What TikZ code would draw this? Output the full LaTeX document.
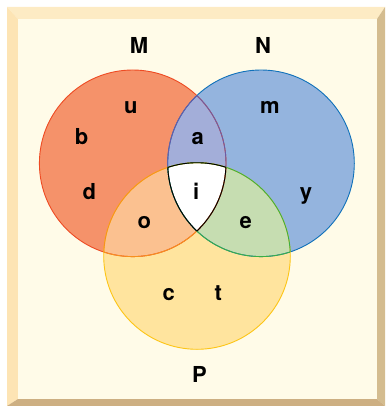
\documentclass[tikz,border=0pt]{standalone}
\usepackage{fontspec}
\setmainfont{TeX Gyre Heros}
\usepackage{tikz}
\definecolor{frameTop}{HTML}{FDEBC4}
\definecolor{frameLeft}{HTML}{FDE4B4}
\definecolor{frameRight}{HTML}{D4BC8F}
\definecolor{frameBot}{HTML}{CDAF82}
\definecolor{paper}{HTML}{FFFBE8}
\definecolor{fillM}{HTML}{F5926A}
\definecolor{fillN}{HTML}{94B4DE}
\definecolor{fillP}{HTML}{FFE49E}
\definecolor{fillMN}{HTML}{A3AED9}
\definecolor{fillMP}{HTML}{FBC190}
\definecolor{fillNP}{HTML}{C6DDB1}
\definecolor{lineM}{HTML}{EE4B23}
\definecolor{lineN}{HTML}{1071BA}
\definecolor{lineP}{HTML}{FDC516}
\definecolor{lineMN}{HTML}{6A5BA6}
\definecolor{lineMP}{HTML}{F7901E}
\definecolor{lineNP}{HTML}{3AAE45}
\newcommand{\rr}{93.3}

\begin{document}
\begin{tikzpicture}[x=1pt, y=-1pt, line width=0.9pt,
    lbl/.style={anchor=base, inner sep=0pt, font=\fontsize{22}{22}\selectfont\bfseries}]
  \useasboundingbox (0,0) rectangle (385,406);

  % -- bevelled frame round the paper --------------------------------------
  \fill[frameTop]   (7,7) -- (385,7) -- (377,19) -- (18,19) -- cycle;
  \fill[frameLeft]  (7,7) -- (18,19) -- (18,399) -- (7,406) -- cycle;
  \fill[frameRight] (385,7) -- (385,406) -- (377,399) -- (377,19) -- cycle;
  \fill[frameBot]   (7,406) -- (18,399) -- (377,399) -- (385,406) -- cycle;
  \fill[paper] (18,19) rectangle (377,399);

  % -- the three sets --------------------------------------------------------
  \coordinate (cM) at (132.7,163.3);
  \coordinate (cN) at (261,163.3);
  \coordinate (cP) at (197,256);

  \fill[fillM] (cM) circle[radius=\rr];
  \fill[fillN] (cN) circle[radius=\rr];
  \fill[fillP] (cP) circle[radius=\rr];
  \begin{scope}
    \clip (cM) circle[radius=\rr];
    \fill[fillMN] (cN) circle[radius=\rr];
    \fill[fillMP] (cP) circle[radius=\rr];
  \end{scope}
  \begin{scope}
    \clip (cN) circle[radius=\rr];
    \fill[fillNP] (cP) circle[radius=\rr];
    \clip (cM) circle[radius=\rr];
    \fill[white] (cP) circle[radius=\rr];
  \end{scope}

  % -- outlines: each arc takes the colour of the region it bounds ----------
  \draw[lineM] (cM) circle[radius=\rr];
  \draw[lineN] (cN) circle[radius=\rr];
  \draw[lineP] (cP) circle[radius=\rr];
  \begin{scope}
    \clip (cM) circle[radius=\rr];
    \draw[lineMN] (cN) circle[radius=\rr];
    \draw[lineMP] (cP) circle[radius=\rr];
  \end{scope}
  \begin{scope}
    \clip (cN) circle[radius=\rr];
    \draw[lineMN] (cM) circle[radius=\rr];
    \draw[lineNP] (cP) circle[radius=\rr];
  \end{scope}
  \begin{scope}
    \clip (cP) circle[radius=\rr];
    \draw[lineMP] (cM) circle[radius=\rr];
    \draw[lineNP] (cN) circle[radius=\rr];
  \end{scope}
  \begin{scope}
    \clip (cM) circle[radius=\rr];
    \clip (cN) circle[radius=\rr];
    \draw[black] (cP) circle[radius=\rr];
  \end{scope}
  \begin{scope}
    \clip (cM) circle[radius=\rr];
    \clip (cP) circle[radius=\rr];
    \draw[black] (cN) circle[radius=\rr];
  \end{scope}
  \begin{scope}
    \clip (cN) circle[radius=\rr];
    \clip (cP) circle[radius=\rr];
    \draw[black] (cM) circle[radius=\rr];
  \end{scope}

  % -- set names -------------------------------------------------------------
  \node[lbl] (nameM) at (139,53.3) {M};
  \node[lbl] (nameN) at (263,53.3) {N};
  \node[lbl] (nameP) at (199.5,382) {P};

  % -- elements --------------------------------------------------------------
  \node[lbl] (elU) at (130.8,113.3) {u};
  \node[lbl] (elB) at (81.7,144) {b};
  \node[lbl] (elD) at (89.3,199.3) {d};
  \node[lbl] (elA) at (197.8,144) {a};
  \node[lbl] (elM) at (270,113.3) {m};
  \node[lbl] (elI) at (196.2,199.3) {i};
  \node[lbl] (elY) at (306,199.3) {y};
  \node[lbl] (elO) at (144.3,228.3) {o};
  \node[lbl] (elE) at (245.8,228.3) {e};
  \node[lbl] (elC) at (168.7,300.7) {c};
  \node[lbl] (elT) at (218.3,300.7) {t};

\end{tikzpicture}
\end{document}
